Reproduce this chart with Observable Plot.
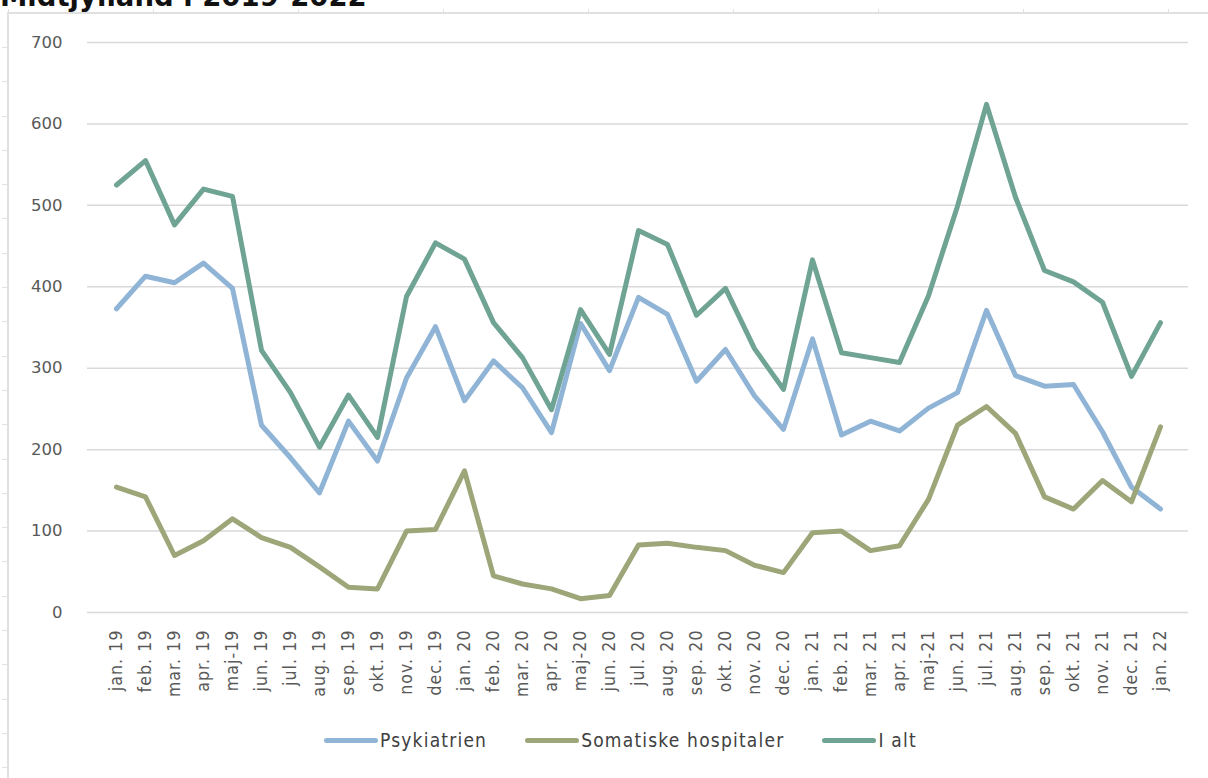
<!DOCTYPE html>
<html>
<head>
<meta charset="utf-8">
<script src="https://cdn.jsdelivr.net/npm/d3@7"></script>
<script src="https://cdn.jsdelivr.net/npm/@observablehq/plot@0.6"></script>
<style>
  html, body { margin: 0; padding: 0; background: #fff; }
  body { width: 1208px; height: 778px; position: relative; overflow: hidden; font-family: "DejaVu Sans", sans-serif; }
  #title { position: absolute; left: 0; top: -17px; font: bold 27.5px/27.5px "DejaVu Sans", sans-serif; color: #111; white-space: nowrap; }
  #frame { position: absolute; left: 7px; top: 12px; right: 0; bottom: 0; border-top: 2px solid #e0e0e0; border-left: 2px solid #e0e0e0; }
  #topticks { position: absolute; left: 8px; top: 9px; right: 0; height: 4px;
    background: repeating-linear-gradient(to right, #e0e0e0 0 1px, transparent 1px 145px); }
  #leftticks { position: absolute; left: 2px; top: 47px; width: 6px; bottom: 0;
    background: repeating-linear-gradient(to bottom, #e0e0e0 0 1px, transparent 1px 34.3px); }
  #chart { position: absolute; left: 0; top: 0; }
  #chart [aria-label="x-axis tick label"] text { letter-spacing: 1.1px; }
  #legend { position: absolute; left: 324px; top: 729px; display: flex; align-items: center;
    font: 19px "DejaVu Sans Condensed", "DejaVu Sans", sans-serif; letter-spacing: 1.2px; color: #404040; }
  .item { display: flex; align-items: center; margin-right: 38px; }
  .sw { width: 54px; height: 5px; border-radius: 3px; margin-right: 2px; }
</style>
</head>
<body>
<div id="title">Midtjylland i 2019-2022</div>
<div id="frame"></div>
<div id="topticks"></div>
<div id="leftticks"></div>
<div id="chart"></div>
<div id="legend"></div>
<script>
// Monthly counts per sector, January 2019 – January 2022
const months = ["jan. 19","feb. 19","mar. 19","apr. 19","maj-19","jun. 19","jul. 19","aug. 19","sep. 19","okt. 19","nov. 19","dec. 19",
  "jan. 20","feb. 20","mar. 20","apr. 20","maj-20","jun. 20","jul. 20","aug. 20","sep. 20","okt. 20","nov. 20","dec. 20",
  "jan. 21","feb. 21","mar. 21","apr. 21","maj-21","jun. 21","jul. 21","aug. 21","sep. 21","okt. 21","nov. 21","dec. 21",
  "jan. 22"];
const psykiatrien = [373,413,405,429,398,230,190,147,235,186,288,351,260,309,276,221,355,297,387,366,284,323,266,225,336,218,235,223,251,270,371,291,278,280,222,154,127];
const somatiske = [154,142,70,88,115,92,80,56,31,29,100,102,174,45,35,29,17,21,83,85,80,76,58,49,98,100,76,82,139,230,253,220,142,127,162,136,228];
const iAlt = [525,555,476,520,511,322,270,203,267,215,388,454,434,356,313,249,372,317,469,452,365,398,324,274,433,319,313,307,389,499,624,510,420,406,381,290,356];
const yTicks = [0,100,200,300,400,500,600,700];

const seriesNames = ["Psykiatrien","Somatiske hospitaler","I alt"];
const seriesColors = ["#8fb4d6","#9ca678","#6fa393"];
const seriesValues = [psykiatrien, somatiske, iAlt];

const rows = seriesNames.flatMap((name, s) =>
  months.map((m, i) => ({serie: name, month: m, value: seriesValues[s][i]})));

const chart = Plot.plot({
  width: 1208,
  height: 700,
  marginLeft: 87,
  marginRight: 20,
  marginTop: 42,
  marginBottom: 88,
  style: {background: "transparent", fontFamily: "DejaVu Sans, sans-serif"},
  x: {type: "point", domain: months, padding: 0.5},
  y: {domain: [0, 700]},
  color: {domain: seriesNames, range: seriesColors},
  marks: [
    Plot.gridY(yTicks, {stroke: "#d9d9d9", strokeOpacity: 1, strokeWidth: 1.5}),
    Plot.axisY(yTicks, {tickSize: 0, tickPadding: 25, fontSize: 16.5, fill: "#595959", label: null}),
    Plot.axisX({tickSize: 0, tickPadding: 17, tickRotate: -90, fontSize: 17.5, fill: "#595959", label: null,
      fontFamily: "DejaVu Sans Condensed, DejaVu Sans, sans-serif"}),
    Plot.line(rows, {x: "month", y: "value", z: "serie", stroke: "serie", strokeWidth: 5,
      strokeLinejoin: "round", strokeLinecap: "round"})
  ]
});
document.getElementById("chart").appendChild(chart);

const legend = document.getElementById("legend");
seriesNames.forEach((name, i) => {
  const item = document.createElement("div");
  item.className = "item";
  const sw = document.createElement("div");
  sw.className = "sw";
  sw.style.background = seriesColors[i];
  const label = document.createElement("span");
  label.textContent = name;
  item.appendChild(sw);
  item.appendChild(label);
  legend.appendChild(item);
});
</script>
</body>
</html>
